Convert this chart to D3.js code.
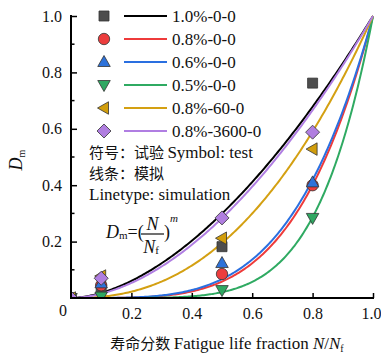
<!DOCTYPE html>
<html>
<head>
<meta charset="utf-8">
<script src="https://cdn.jsdelivr.net/npm/d3@7"></script>
<style>
  html, body { margin: 0; padding: 0; background: #fff; }
  svg { display: block; }
</style>
</head>
<body>
<div id="chart"></div>
<script>
// Test series: damage D_m measured at three life fractions
const seriesNames = ["1.0%-0-0", "0.8%-0-0", "0.6%-0-0", "0.5%-0-0", "0.8%-60-0", "0.8%-3600-0"];
const lifeFractions = [0, 0.1, 0.5, 0.8];
const testDamage = [
  [0, 0.032, 0.182, 0.762],
  [0, 0.045, 0.085, 0.400],
  [0, 0.052, 0.124, 0.410],
  [0, 0.005, 0.028, 0.284],
  [0, 0.078, 0.212, 0.528],
  [0, 0.070, 0.284, 0.588]
];
// Exponent m of the simulated curve D_m = (N/N_f)^m
const exponents = [1.74, 4.1, 3.9, 5.6, 2.36, 1.82];
const lineColors = ["#000000", "#ee3b3b", "#2a6fe0", "#2faa62", "#d4a012", "#b07ee2"];
const markerFills = ["#4d4d4d", "#ec3d3d", "#2d72da", "#2fa862", "#d19d0c", "#b07ee0"];
const markerShapes = ["square", "circle", "up", "down", "left", "diamond"];
const xTicks = [0.2, 0.4, 0.6, 0.8, 1.0];
const yTicks = [0.2, 0.4, 0.6, 0.8, 1.0];

const SERIF = '"Liberation Serif", "Times New Roman", "DejaVu Serif", serif';
const CJK = '"Noto Sans CJK SC", "Noto Sans CJK JP", sans-serif';

const W = 381, H = 359;
const svg = d3.select("#chart").append("svg").attr("width", W).attr("height", H)
  .style("font-family", SERIF);

const x = d3.scaleLinear().domain([0, 1]).range([71, 373]);
const y = d3.scaleLinear().domain([0, 1]).range([298, 16]);

svg.append("defs").append("clipPath").attr("id", "plotClip")
  .append("rect").attr("x", x(0)).attr("y", 0).attr("width", x(1) - x(0) + 10).attr("height", y(0));

// Simulated curves
const plot = svg.append("g").attr("clip-path", "url(#plotClip)");
const curveX = d3.range(0, 1.0001, 0.005);
const line = d3.line().x(d => x(d[0])).y(d => y(d[1]));
exponents.forEach((m, i) => {
  plot.append("path")
    .datum(curveX.map(v => [v, Math.pow(v, m)]))
    .attr("d", line)
    .attr("fill", "none")
    .attr("stroke", lineColors[i])
    .attr("stroke-width", 2);
});

// Marker path generators
function markerPath(shape, s) {
  switch (shape) {
    case "square": return `M${-s},${-s}H${s}V${s}H${-s}Z`;
    case "circle": return d3.symbol().type(d3.symbolCircle).size(Math.PI * s * s * 1.3)();
    case "up": return `M0,${-s * 1.3}L${s * 1.25},${s * 0.9}L${-s * 1.25},${s * 0.9}Z`;
    case "down": return `M0,${s * 1.3}L${s * 1.25},${-s * 0.9}L${-s * 1.25},${-s * 0.9}Z`;
    case "left": return `M${-s * 1.3},0L${s * 0.9},${-s * 1.25}L${s * 0.9},${s * 1.25}Z`;
    case "diamond": return `M0,${-s * 1.4}L${s * 1.4},0L0,${s * 1.4}L${-s * 1.4},0Z`;
  }
}

// Test points
testDamage.forEach((vals, i) => {
  plot.selectAll(null)
    .data(vals.map((v, j) => [lifeFractions[j], v]))
    .enter().append("path")
    .attr("transform", d => `translate(${x(d[0])},${y(d[1])})`)
    .attr("d", markerPath(markerShapes[i], 5))
    .attr("fill", markerFills[i])
    .attr("stroke", "#333")
    .attr("stroke-width", 0.8);
});

// Axes
const axisG = svg.append("g").attr("stroke", "#000").attr("stroke-width", 2);
axisG.append("line").attr("x1", x(0)).attr("x2", x(0)).attr("y1", y(1) - 1).attr("y2", y(0) + 1);
axisG.append("line").attr("x1", x(0) - 1).attr("x2", x(1) + 1).attr("y1", y(0)).attr("y2", y(0));

const xAxis = d3.axisBottom(x).tickValues(xTicks).tickSize(-5).tickPadding(10).tickFormat(d3.format(".1f"));
const gx = svg.append("g").attr("transform", `translate(0,${y(0)})`).call(xAxis)
  .attr("font-family", null).attr("font-size", null);
gx.select(".domain").remove();
gx.selectAll(".tick line").attr("stroke", "#000").attr("stroke-width", 1.5);
gx.selectAll(".tick text").style("font-family", SERIF).style("font-size", "16px").attr("fill", "#111").attr("dy", "0.71em")
  .attr("dx", d => d === 1 ? -2 : 0);

const yAxis = d3.axisLeft(y).tickValues(yTicks).tickSize(-6).tickPadding(9).tickFormat(d3.format(".1f"));
const gy = svg.append("g").attr("transform", `translate(${x(0)},0)`).call(yAxis)
  .attr("font-family", null).attr("font-size", null);
gy.select(".domain").remove();
gy.selectAll(".tick line").attr("stroke", "#000").attr("stroke-width", 1.5);
gy.selectAll(".tick text").style("font-family", SERIF).style("font-size", "16px").attr("fill", "#111");

// Minor y ticks
const yMinor = [0.1, 0.3, 0.5, 0.7, 0.9];
svg.append("g").selectAll("line").data(yMinor).enter().append("line")
  .attr("x1", x(0)).attr("x2", x(0) + 3.5)
  .attr("y1", d => y(d)).attr("y2", d => y(d))
  .attr("stroke", "#000").attr("stroke-width", 1.5);

// Shared origin label
svg.append("text").attr("x", 63).attr("y", 316).attr("text-anchor", "middle")
  .style("font-size", "16px").attr("fill", "#111").text("0");

// Axis titles
const xt = svg.append("text").attr("x", 227).attr("y", 349).attr("text-anchor", "middle")
  .style("font-size", "17px").attr("fill", "#111");
xt.append("tspan").style("font-family", CJK).style("font-size", "15px").text("寿命分数 ");
xt.append("tspan").text("Fatigue life fraction ");
xt.append("tspan").attr("font-style", "italic").text("N");
xt.append("tspan").text("/");
xt.append("tspan").attr("font-style", "italic").text("N");
xt.append("tspan").style("font-size", "10px").attr("dy", 3).text("f");

const yt = svg.append("text").attr("transform", "translate(22,160) rotate(-90)").attr("text-anchor", "middle")
  .style("font-size", "18px").attr("fill", "#111");
yt.append("tspan").attr("font-style", "italic").text("D");
yt.append("tspan").style("font-size", "10px").attr("dy", 3).text("m");

// Legend
const legend = svg.append("g");
seriesNames.forEach((name, i) => {
  const ry = 16 + i * 23;
  legend.append("path")
    .attr("transform", `translate(104,${ry})`)
    .attr("d", markerPath(markerShapes[i], 5))
    .attr("fill", markerFills[i]).attr("stroke", "#333").attr("stroke-width", 0.8);
  legend.append("line").attr("x1", 124).attr("x2", 167).attr("y1", ry).attr("y2", ry)
    .attr("stroke", lineColors[i]).attr("stroke-width", 2);
  legend.append("text").attr("x", 172).attr("y", ry + 5.5).style("font-size", "17px").attr("fill", "#111").text(name);
});

// Notes
const n1 = svg.append("text").attr("x", 89).attr("y", 158).style("font-size", "17px").attr("fill", "#111");
n1.append("tspan").style("font-family", CJK).style("font-size", "15px").text("符号：试验 ");
n1.append("tspan").text("Symbol: test");
svg.append("text").attr("x", 89).attr("y", 179).style("font-family", CJK).style("font-size", "15px").attr("fill", "#111").text("线条：模拟");
svg.append("text").attr("x", 89).attr("y", 200).style("font-size", "17px").attr("fill", "#111").text("Linetype: simulation");

// Formula D_m = (N / N_f)^m
const f = svg.append("g").attr("fill", "#111");
const fl = f.append("text").attr("x", 106).attr("y", 238).style("font-size", "18px");
fl.append("tspan").attr("font-style", "italic").text("D");
fl.append("tspan").style("font-size", "11px").attr("dy", 1).text("m");
fl.append("tspan").attr("dy", -1).text("=(");
f.append("line").attr("x1", 141).attr("x2", 164).attr("y1", 234).attr("y2", 234).attr("stroke", "#111").attr("stroke-width", 1.2);
f.append("text").attr("x", 152.5).attr("y", 230).attr("text-anchor", "middle").style("font-size", "18px").attr("font-style", "italic").text("N");
const nf = f.append("text").attr("x", 151).attr("y", 253).attr("text-anchor", "middle").style("font-size", "18px");
nf.append("tspan").attr("font-style", "italic").text("N");
nf.append("tspan").style("font-size", "11px").attr("dy", 1).text("f");
const fr = f.append("text").attr("x", 164).attr("y", 238).style("font-size", "18px");
fr.append("tspan").text(")");
fr.append("tspan").attr("font-style", "italic").style("font-size", "11px").attr("dy", -16).text("m");
</script>
</body>
</html>
